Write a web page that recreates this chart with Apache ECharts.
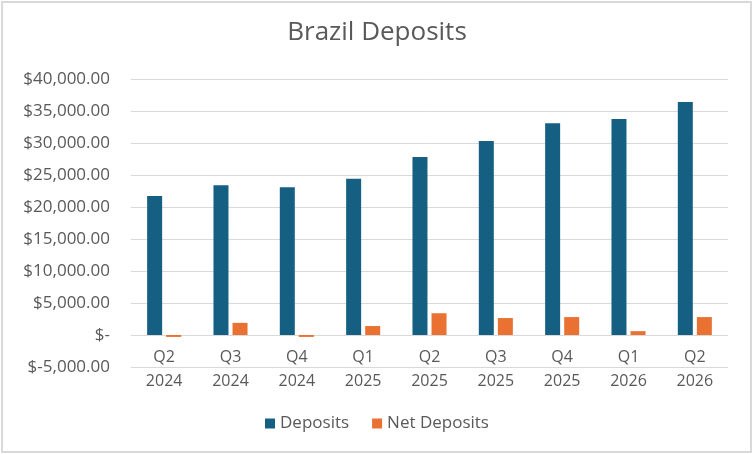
<!DOCTYPE html>
<html>
<head>
<meta charset="utf-8">
<script src="https://cdn.jsdelivr.net/npm/echarts@6/dist/echarts.min.js"></script>
<style>
html,body{margin:0;padding:0;background:#fff;}
#frame{position:absolute;left:1px;top:1px;width:751px;height:452px;box-sizing:border-box;border:2px solid #d9d9d9;}
#chart{position:absolute;left:0;top:0;width:754px;height:454px;}
</style>
</head>
<body>
<div id="frame"></div>
<div id="chart"></div>
<script>
const quarters = ['Q2','Q3','Q4','Q1','Q2','Q3','Q4','Q1','Q2'];
const years = ['2024','2024','2024','2025','2025','2025','2025','2026','2026'];
const deposits = [21700, 23400, 23100, 24400, 27800, 30300, 33100, 33750, 36400];
const netDeposits = [-300, 1900, -300, 1400, 3400, 2650, 2800, 600, 2800];
const yTicks = { min: -5000, max: 40000, interval: 5000 };

const categories = quarters.map((q, i) => q + '\n' + years[i]);
const FONT = '"Open Sans", sans-serif';
const TXT = '#595959';

function money(v) {
  if (v === 0) return '$-';
  const s = Math.abs(v).toFixed(2).replace(/\B(?=(\d{3})+(?!\d))/g, ',');
  return v < 0 ? '$-' + s : '$' + s;
}

const chart = echarts.init(document.getElementById('chart'), null, { renderer: 'canvas' });
chart.setOption({
  animation: false,
  backgroundColor: 'transparent',
  textStyle: { fontFamily: FONT },
  title: {
    text: 'Brazil Deposits',
    left: 'center',
    top: 15,
    textStyle: { fontFamily: FONT, fontSize: 26, fontWeight: 'normal', color: TXT }
  },
  legend: {
    bottom: 17,
    left: 'center',
    itemWidth: 10,
    itemHeight: 10,
    itemGap: 23,
    icon: 'rect',
    textStyle: { fontFamily: FONT, fontSize: 17, color: TXT },
    data: ['Deposits', 'Net Deposits']
  },
  grid: { left: 131, right: 26, top: 79, bottom: 87, containLabel: false },
  xAxis: {
    type: 'category',
    data: categories,
    offset: -32,
    axisLine: { show: false, onZero: false },
    axisTick: { show: false },
    axisLabel: { fontFamily: FONT, fontSize: 16, color: TXT, lineHeight: 24, margin: 10, interval: 0 }
  },
  yAxis: {
    type: 'value',
    min: yTicks.min,
    max: yTicks.max,
    interval: yTicks.interval,
    axisLine: { show: false },
    axisTick: { show: false },
    splitLine: { lineStyle: { color: '#d9d9d9', width: 1 } },
    axisLabel: { fontFamily: FONT, fontSize: 17, color: TXT, margin: 21, formatter: money }
  },
  series: [
    { name: 'Deposits', type: 'bar', data: deposits, barWidth: 15, barGap: '27%',
      itemStyle: { color: '#156082' } },
    { name: 'Net Deposits', type: 'bar', data: netDeposits, barWidth: 15,
      itemStyle: { color: '#E97132' } }
  ]
});
</script>
</body>
</html>
